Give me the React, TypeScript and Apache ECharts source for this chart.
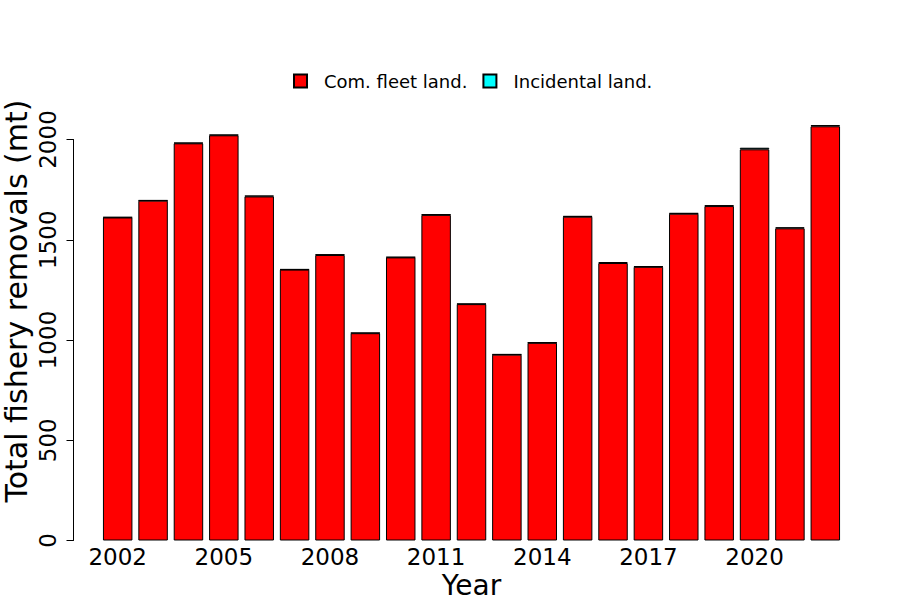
import React, { useEffect, useRef } from "react";
import * as echarts from "echarts";

const years = ["2002","2003","2004","2005","2006","2007","2008","2009","2010","2011","2012","2013","2014","2015","2016","2017","2018","2019","2020","2021","2022"];
const comFleet = [1611, 1695, 1981, 2021, 1716, 1351, 1424, 1034, 1412, 1624, 1179, 927, 986, 1615, 1384, 1365, 1630, 1668, 1951, 1557, 2066];
const incidental = [2, 2, 3, 3, 4, 2, 3, 2, 2, 3, 2, 2, 2, 3, 5, 3, 3, 4, 8, 5, 6];
const yTicks = { min: 0, max: 2000, interval: 500 };

const FONT = "DejaVu Sans";

export default function App() {
  const ref = useRef<HTMLDivElement>(null);
  useEffect(() => {
    if (!ref.current) return;
    const chart = echarts.init(ref.current, null, { renderer: "svg" });
    chart.setOption({
      animation: false,
      backgroundColor: "#ffffff",
      textStyle: { fontFamily: FONT },
      legend: {
        top: 67,
        left: 288,
        itemWidth: 13,
        itemHeight: 13,
        itemGap: 15,
        icon: "rect",
        textStyle: { fontFamily: FONT, fontSize: 18, color: "#000", padding: [0, 0, 0, 12] },
        data: ["Com. fleet land.", "Incidental land."],
      },
      grid: { left: 100, right: 57, top: 139.5, bottom: 59.5, containLabel: false, outerBoundsMode: "none" },
      xAxis: {
        type: "category",
        data: years,
        axisLine: { show: false },
        axisTick: { show: false },
        axisLabel: { interval: 2, fontSize: 23, color: "#000", margin: 5, fontFamily: FONT },
        name: "Year",
        nameLocation: "middle",
        nameMoveOverlap: false,
        nameGap: 31,
        nameTextStyle: { fontSize: 28, color: "#000", fontFamily: FONT, verticalAlign: "top" },
      },
      yAxis: {
        type: "value",
        min: yTicks.min,
        max: yTicks.max,
        interval: yTicks.interval,
        offset: 26.5,
        splitLine: { show: false },
        axisLine: { show: true, lineStyle: { color: "#000", width: 1 } },
        axisTick: { show: true, length: 7, lineStyle: { color: "#000" } },
        axisLabel: {
          rotate: 90,
          fontSize: 23,
          color: "#000",
          margin: 14,
          fontFamily: FONT,
          formatter: (v: number) => String(v),
        },
      },
      graphic: [
        {
          type: "text",
          x: 16,
          y: 301,
          rotation: Math.PI / 2,
          style: {
            text: "Total fishery removals (mt)",
            fontSize: 30,
            fontFamily: FONT,
            fill: "#000",
            textAlign: "center",
            textVerticalAlign: "middle",
          },
        },
      ],
      series: [
        {
          name: "Com. fleet land.",
          type: "bar",
          stack: "total",
          data: comFleet,
          barWidth: "83.33%",
          clip: false,
          itemStyle: { color: "#ff0000", borderColor: "#000", borderWidth: 1 },
        },
        {
          name: "Incidental land.",
          type: "bar",
          stack: "total",
          data: incidental,
          barWidth: "83.33%",
          clip: false,
          itemStyle: { color: "#00ffff", borderColor: "#000", borderWidth: 1 },
        },
      ],
    });
    return () => chart.dispose();
  }, []);
  return <div ref={ref} style={{ position: "fixed", left: 0, top: 0, width: 900, height: 600 }} />;
}
